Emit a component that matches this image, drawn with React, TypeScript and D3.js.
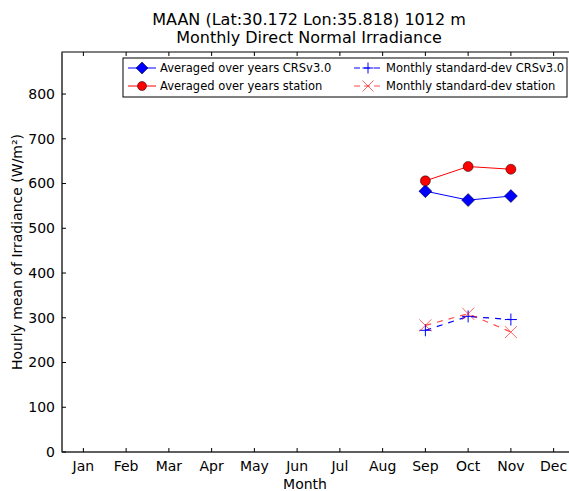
import React from "react";
import * as d3 from "d3";

const months = ["Jan","Feb","Mar","Apr","May","Jun","Jul","Aug","Sep","Oct","Nov","Dec"];
const dataMonths = [9, 10, 11];
const crsAvg = [583, 563, 572];
const stationAvg = [606, 638, 632];
const crsStd = [272, 303, 296];
const stationStd = [283, 309, 268];
const yTicks = [0, 100, 200, 300, 400, 500, 600, 700, 800];

const W = 569, H = 491;
const L = 62, T = 52, R = 575, B = 452;
const FONT = "DejaVu Sans, sans-serif";

export default function App() {
  const x = d3.scaleLinear().domain([0.5, 12.5]).range([L, R]);
  const y = d3.scaleLinear().domain([0, 894]).range([B, T]);
  const line = (vals: number[]) =>
    d3.line<number>().x((_, i) => x(dataMonths[i])).y((v) => y(v))(vals) || "";

  const diamond = (cx: number, cy: number, r = 6.5) =>
    `M${cx},${cy - r}L${cx + r},${cy}L${cx},${cy + r}L${cx - r},${cy}Z`;
  const plus = (cx: number, cy: number, r = 6) =>
    `M${cx - r},${cy}H${cx + r}M${cx},${cy - r}V${cy + r}`;
  const cross = (cx: number, cy: number, r = 6) =>
    `M${cx - r},${cy - r}L${cx + r},${cy + r}M${cx - r},${cy + r}L${cx + r},${cy - r}`;

  return (
    <svg width={W} height={H} style={{ position: "absolute", left: 0, top: 0, background: "#fff" }}>
      <style>{`body{margin:0}`}</style>
      <text x={309} y={25} textAnchor="middle" fontFamily={FONT} fontSize={16}>MAAN (Lat:30.172 Lon:35.818) 1012 m</text>
      <text x={309} y={43} textAnchor="middle" fontFamily={FONT} fontSize={16}>Monthly Direct Normal Irradiance</text>

      <defs>
        <clipPath id="clip"><rect x={L} y={T} width={R - L} height={B - T} /></clipPath>
      </defs>

      {/* frame */}
      <rect x={L} y={T} width={R - L} height={B - T} fill="none" stroke="#000" strokeWidth={1} />
      <line x1={L} y1={T} x2={L} y2={B} stroke="#555" strokeWidth={1.5} />
      <line x1={L} y1={B} x2={R} y2={B} stroke="#555" strokeWidth={1.5} />

      {/* y ticks */}
      {yTicks.map((v) => (
        <g key={v}>
          <line x1={L} x2={L + 4} y1={y(v)} y2={y(v)} stroke="#000" />
          <line x1={R - 4} x2={R} y1={y(v)} y2={y(v)} stroke="#000" />
          <text x={L - 7} y={y(v)} dy="0.35em" textAnchor="end" fontFamily={FONT} fontSize={14}>{v}</text>
        </g>
      ))}
      {/* x ticks */}
      {months.map((m, i) => (
        <g key={m}>
          <line x1={x(i + 1)} x2={x(i + 1)} y1={B} y2={B - 4} stroke="#000" />
          <line x1={x(i + 1)} x2={x(i + 1)} y1={T} y2={T + 4} stroke="#000" />
          <text x={x(i + 1)} y={B + 19} textAnchor="middle" fontFamily={FONT} fontSize={14}>{m}</text>
        </g>
      ))}

      <text x={305} y={489} textAnchor="middle" fontFamily={FONT} fontSize={14}>Month</text>
      <text transform={`translate(22,${(T + B) / 2}) rotate(-90)`} textAnchor="middle" fontFamily={FONT} fontSize={14}>
        Hourly mean of Irradiance (W/m²)
      </text>

      <g clipPath="url(#clip)">
        <path d={line(crsAvg)} fill="none" stroke="blue" strokeWidth={1} />
        <path d={line(stationAvg)} fill="none" stroke="red" strokeWidth={1} />
        <path d={line(crsStd)} fill="none" stroke="blue" strokeWidth={1.2} strokeDasharray="6,6" />
        <path d={line(stationStd)} fill="none" stroke="red" strokeOpacity={0.7} strokeWidth={1.2} strokeDasharray="6,6" />
        {crsAvg.map((v, i) => (
          <path key={"d" + i} d={diamond(x(dataMonths[i]), y(v))} fill="blue" stroke="#000" strokeWidth={0.5} />
        ))}
        {stationAvg.map((v, i) => (
          <circle key={"c" + i} cx={x(dataMonths[i])} cy={y(v)} r={5} fill="red" stroke="#000" strokeWidth={0.5} />
        ))}
        {crsStd.map((v, i) => (
          <path key={"p" + i} d={plus(x(dataMonths[i]), y(v))} stroke="blue" strokeWidth={1} />
        ))}
        {stationStd.map((v, i) => (
          <path key={"x" + i} d={cross(x(dataMonths[i]), y(v))} stroke="red" strokeOpacity={0.6} strokeWidth={1} />
        ))}
      </g>

      {/* legend */}
      <g>
        <rect x={123} y={58} width={444} height={39} fill="#fff" stroke="#000" strokeWidth={1} />
        <line x1={128} x2={156} y1={68} y2={68} stroke="blue" />
        <path d={diamond(142, 68, 6)} fill="blue" stroke="#000" strokeWidth={0.5} />
        <text x={160} y={68} dy="0.35em" fontFamily={FONT} fontSize={11.5}>Averaged over years CRSv3.0</text>
        <line x1={128} x2={156} y1={86} y2={86} stroke="red" />
        <circle cx={142} cy={86} r={4.5} fill="red" stroke="#000" strokeWidth={0.5} />
        <text x={160} y={86} dy="0.35em" fontFamily={FONT} fontSize={11.5}>Averaged over years station</text>

        <line x1={354} x2={382} y1={68} y2={68} stroke="blue" strokeDasharray="6,4" />
        <path d={plus(368, 68, 5.5)} stroke="blue" />
        <text x={386} y={68} dy="0.35em" fontFamily={FONT} fontSize={11.5}>Monthly standard-dev CRSv3.0</text>
        <line x1={354} x2={382} y1={86} y2={86} stroke="red" strokeOpacity={0.7} strokeDasharray="6,4" />
        <path d={cross(368, 86, 5.5)} stroke="red" strokeOpacity={0.6} />
        <text x={386} y={86} dy="0.35em" fontFamily={FONT} fontSize={11.5}>Monthly standard-dev station</text>
      </g>
    </svg>
  );
}
